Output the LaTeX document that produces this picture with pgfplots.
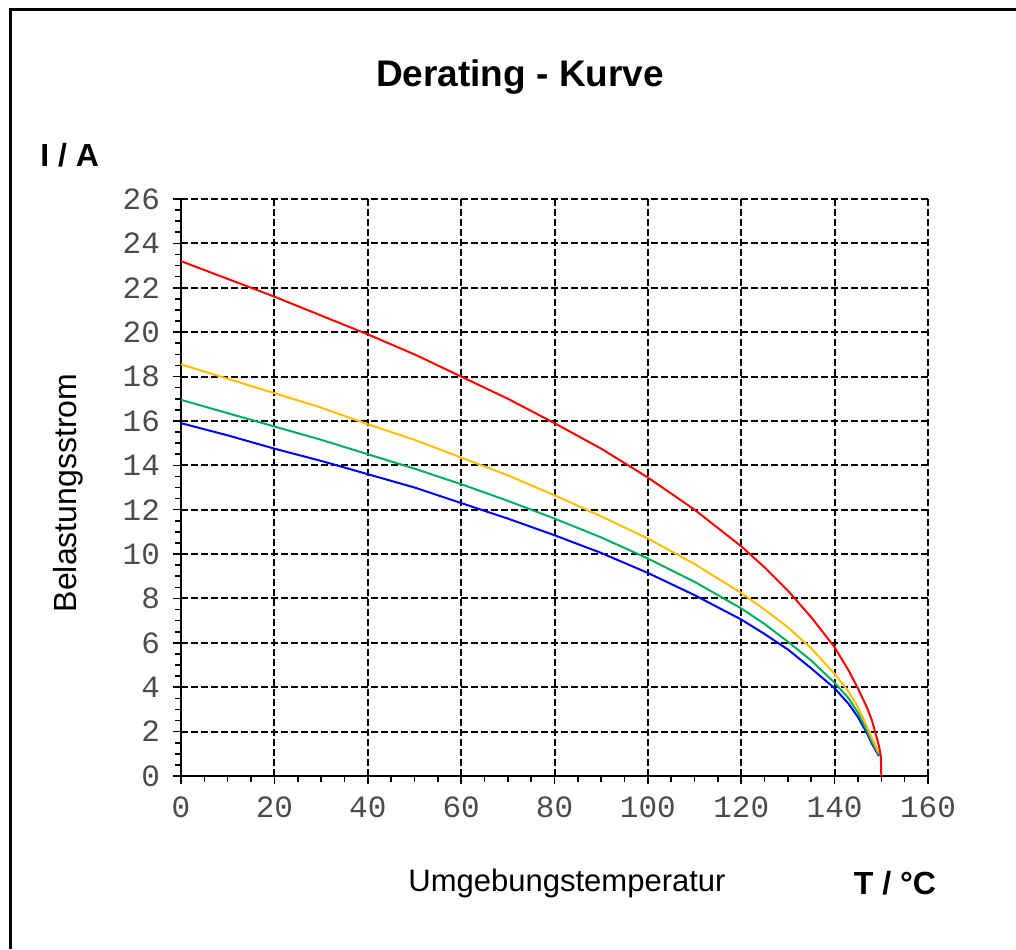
\documentclass[border=0pt]{standalone}
\usepackage{pgfplots}
\pgfplotsset{compat=1.18}
\usepackage{fontspec}
\setmainfont{Liberation Sans}
\newfontfamily\monofont{Liberation Mono}

\definecolor{cRed}{RGB}{255,0,0}
\definecolor{cOrange}{RGB}{255,190,0}
\definecolor{cGreen}{RGB}{0,176,90}
\definecolor{cBlue}{RGB}{0,0,255}

% T, red, orange, green, blue
\pgfplotstableread{
T     red   orange green blue
0     23.2  18.55  16.95 15.9
10    22.4  17.9   16.35 15.35
20    21.6  17.25  15.75 14.75
30    20.75 16.6   15.15 14.2
40    19.9  15.85  14.5  13.6
50    19.0  15.15  13.85 13.0
60    18.0  14.35  13.15 12.3
70    17.0  13.55  12.4  11.6
80    15.9  12.65  11.6  10.85
90    14.75 11.7   10.75 10.05
100   13.45 10.7   9.8   9.15
110   12.0  9.55   8.75  8.15
120   10.35 8.25   7.55  7.05
125   9.4   7.5    6.85  6.4
130   8.35  6.7    6.05  5.7
135   7.15  5.75   5.2   4.85
140   5.8   4.6    4.2   3.95
143   4.75  3.8    3.5   3.25
145   3.95  3.1    2.85  2.65
147   3.05  2.2    2.0   1.9
148   2.5   1.7    1.55  1.45
149.5 1.35  1.05   0.95  0.9
}\derating

\begin{document}
\begin{tikzpicture}
\useasboundingbox (0,0) rectangle (508pt,474.5pt);
\draw[line width=1.5pt] (5pt,0) -- (5pt,469.5pt) -- (508pt,469.5pt);

\begin{axis}[
  at={(90.5pt,86.5pt)}, anchor=south west,
  scale only axis, width=373.5pt, height=288.5pt,
  xmin=0, xmax=160, ymin=0, ymax=26,
  xtick distance=20, ytick distance=2,
  minor x tick num=3, minor y tick num=3,
  axis x line*=bottom, axis y line*=left,
  axis line style={line width=1pt, -},
  tick align=outside,
  major tick length=4pt, minor tick length=3pt,
  every tick/.style={black, line width=0.8pt},
  grid=major,
  major grid style={black, line width=1pt, dash pattern=on 3.5pt off 1.5pt},
  /pgf/number format/assume math mode=true,
  tick label style={font=\monofont\fontsize{15.5}{16}\selectfont, text=black!70},
  yticklabel style={xshift=-3pt},
  xticklabel style={yshift=-3pt},
  clip=false,
]
  \addplot[cBlue, line width=1pt] table[x=T, y=blue] {\derating};
  \addplot[cGreen, line width=1pt] table[x=T, y=green] {\derating};
  \addplot[cOrange, line width=1pt] table[x=T, y=orange] {\derating};
  \addplot[cRed, line width=1pt] table[x=T, y=red] {\derating};
  \addplot[cRed, line width=1pt] coordinates {(149.5,1.35) (149.9,0.9) (150,0)};
\end{axis}

\node[font=\bfseries\fontsize{18.5}{20}\selectfont] at (260pt,436pt) {Derating - Kurve};
\node[font=\bfseries\fontsize{16}{18}\selectfont, anchor=west, inner sep=0pt] at (20pt,397pt) {I / A};
\node[font=\fontsize{16}{18}\selectfont, rotate=90] at (34pt,228pt) {Belastungsstrom};
\node[font=\fontsize{15.5}{18}\selectfont] at (283.5pt,33pt) {Umgebungstemperatur};
\node[font=\bfseries\fontsize{16}{18}\selectfont] at (447.5pt,33pt) {T / °C};
\end{tikzpicture}
\end{document}
